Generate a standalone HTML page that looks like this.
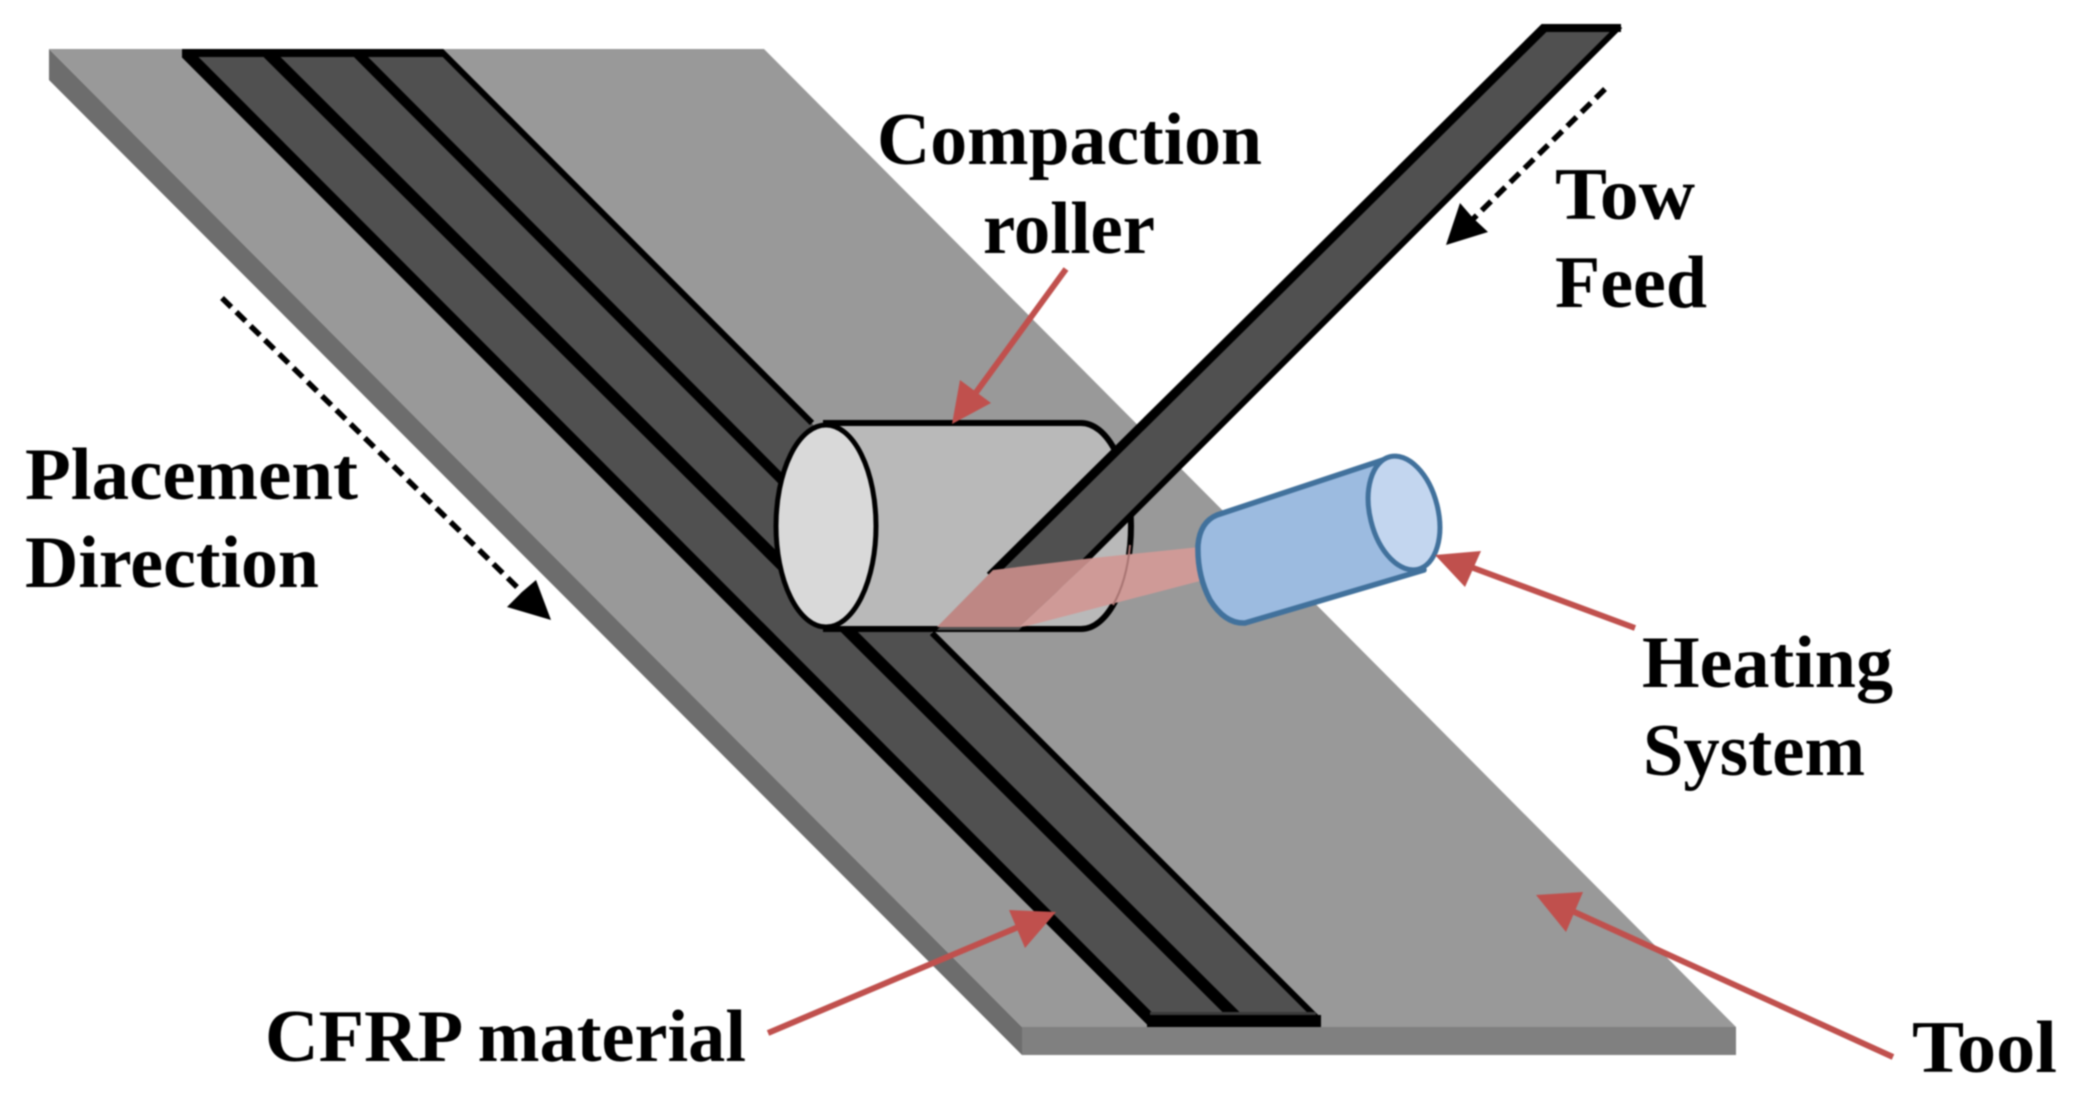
<!DOCTYPE html>
<html>
<head>
<meta charset="utf-8">
<style>
html,body{margin:0;padding:0;background:#fff;width:2076px;height:1118px;overflow:hidden}
svg{display:block;filter:blur(.7px)}
text{font-family:"Liberation Serif",serif;font-weight:bold;font-size:74px;fill:#000}
</style>
</head>
<body>
<svg width="2076" height="1118" viewBox="0 0 2076 1118" xmlns="http://www.w3.org/2000/svg">
  <defs>
    <clipPath id="c1"><rect x="0" y="49" width="2076" height="978"/></clipPath>
    <clipPath id="c2"><rect x="900" y="24" width="800" height="640"/></clipPath>
  </defs>
  <!-- tool -->
  <polygon points="49,49 49,80 1022,1055 1022,1027" fill="#6d6d6d"/>
  <polygon points="1022,1027 1736,1027 1736,1055 1022,1055" fill="#808080"/>
  <polygon points="49,49 764,49 1736,1027 1022,1027" fill="#999999"/>

  <!-- laid tows -->
  <polygon points="186,52 440,52 812,423 932,633 1321,1020 1146,1020" fill="#505050"/>
  <g stroke="#000" fill="none" clip-path="url(#c1)">
    <line x1="186" y1="53" x2="1158" y2="1027" stroke-width="12"/>
    <line x1="267" y1="52" x2="1246" y2="1027" stroke-width="12"/>
    <line x1="356" y1="52" x2="800" y2="498" stroke-width="10"/>
    <line x1="440" y1="50" x2="812" y2="423" stroke-width="6"/>
    <line x1="932" y1="633" x2="1319" y2="1020" stroke-width="6"/>
  </g>
  <rect x="182" y="49" width="261" height="8" fill="#000"/>
  <rect x="1150" y="1012" width="166" height="3" fill="#3a3a3a"/>
  <rect x="1147" y="1015" width="174" height="12" fill="#000"/>

  <!-- roller -->
  <path d="M826,423 H1081 A50,103 0 0 1 1081,629 H826 Z" fill="#b9b9b9" stroke="#000" stroke-width="6"/>
  <ellipse cx="826" cy="526" rx="50" ry="101" fill="#d9d9d9" stroke="#000" stroke-width="5"/>

  <!-- incoming tow -->
  <polygon points="1542,24 1621,24 1019,630 937,630" fill="#505050"/>
  <g clip-path="url(#c2)">
    <line x1="1546" y1="26" x2="990" y2="576" stroke="#000" stroke-width="9"/>
    <line x1="1620" y1="26" x2="1085" y2="561" stroke="#000" stroke-width="6"/>
  </g>
  <rect x="1542" y="24" width="79" height="8" fill="#000"/>

  <!-- heat beam -->
  <polygon points="993,570 1093,558 1019,627 937,627" fill="#be8784"/>
  <polygon points="1093,558 1200,547 1200,581 1027,626 1019,627" fill="#cf9a97"/>
  <path d="M1130,545 A50,103 0 0 1 1113,605" fill="none" stroke="#a87472" stroke-width="2"/>

  <!-- heater -->
  <path d="M1217,515 L1392,457 L1424,570 L1245,623 Q1225,624 1210,600 Q1197,575 1198,545 Q1200,522 1217,515 Z" fill="#9cbbe0" stroke="#41719c" stroke-width="5.5" stroke-linejoin="round"/>
  <ellipse cx="1404" cy="513" rx="34" ry="58" transform="rotate(-14 1404 513)" fill="#c3d6ef" stroke="#41719c" stroke-width="5"/>

  <!-- red arrows -->
  <g stroke="#c0504d" stroke-width="6" fill="none">
    <line x1="1066" y1="269" x2="972" y2="398"/>
    <line x1="1635" y1="628" x2="1468" y2="566"/>
    <line x1="768" y1="1033" x2="1030" y2="922"/>
    <line x1="1893" y1="1057" x2="1570" y2="910"/>
  </g>
  <g fill="#c0504d">
    <polygon points="952,424 991,403 960,380"/>
    <polygon points="1435,555 1481,551 1465,587"/>
    <polygon points="1056,912 1009,910 1025,948"/>
    <polygon points="1536,895 1583,892 1566,932"/>
  </g>

  <!-- dashed black arrows -->
  <g stroke="#000" stroke-width="5.5" fill="none" stroke-dasharray="13 7">
    <line x1="222" y1="298" x2="522" y2="592"/>
    <line x1="1605" y1="89" x2="1472" y2="220"/>
  </g>
  <polygon points="551,620 536,580 522,592 507,607" fill="#000"/>
  <polygon points="1446,245 1460,203 1473,218 1488,232" fill="#000"/>

  <!-- labels -->
  <text x="877" y="164" textLength="385" lengthAdjust="spacingAndGlyphs">Compaction</text>
  <text x="983" y="253" textLength="172" lengthAdjust="spacingAndGlyphs">roller</text>
  <text x="1555" y="219" textLength="140" lengthAdjust="spacingAndGlyphs">Tow</text>
  <text x="1555" y="307" textLength="152" lengthAdjust="spacingAndGlyphs">Feed</text>
  <text x="25" y="499" textLength="333" lengthAdjust="spacingAndGlyphs">Placement</text>
  <text x="25" y="587" textLength="294" lengthAdjust="spacingAndGlyphs">Direction</text>
  <text x="1642" y="687" textLength="251" lengthAdjust="spacingAndGlyphs">Heating</text>
  <text x="1643" y="775" textLength="222" lengthAdjust="spacingAndGlyphs">System</text>
  <text x="265" y="1061" textLength="481" lengthAdjust="spacingAndGlyphs">CFRP material</text>
  <text x="1912" y="1072" textLength="145" lengthAdjust="spacingAndGlyphs">Tool</text>
</svg>
</body>
</html>
